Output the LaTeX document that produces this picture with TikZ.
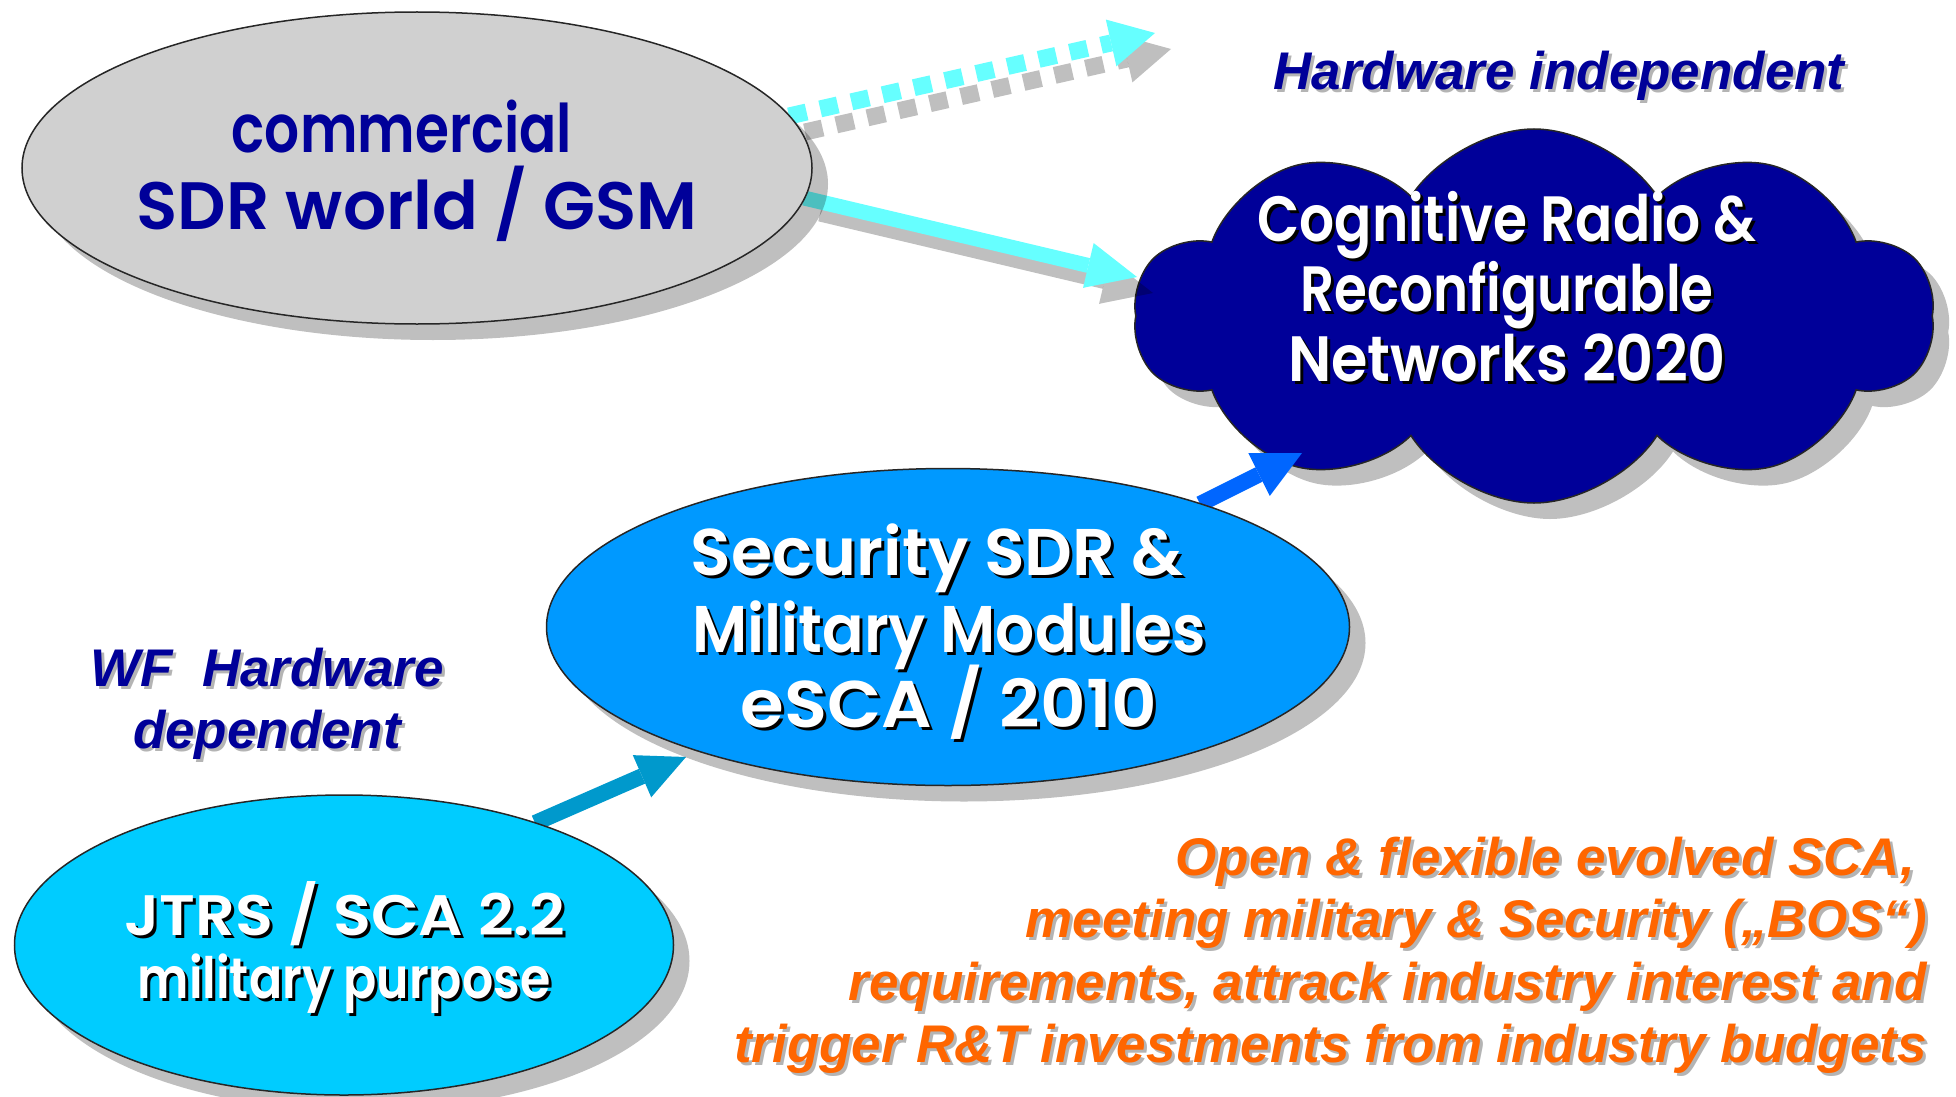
\documentclass[tikz,border=0pt]{standalone}
\usepackage{fontspec}
\setmainfont{Liberation Sans}
\newfontfamily\comic{Poppins}[BoldFont={Poppins SemiBold}]
\usetikzlibrary{shapes.geometric,shapes.symbols,shadows,arrows.meta,calc}
\definecolor{navy}{HTML}{000099}
\definecolor{greyfill}{HTML}{D0D0D0}
\definecolor{azure}{HTML}{0099FF}
\definecolor{skyc}{HTML}{00CCFF}
\definecolor{aqua}{HTML}{66FFFF}
\definecolor{arrowblue}{HTML}{0066FF}
\definecolor{tealx}{HTML}{0099CC}
\definecolor{orangex}{HTML}{FF6600}
\definecolor{txtshadow}{HTML}{B4B4B4}
% white comic text with black shadow: name, x, y, size, xfactor, text
\newcommand\stxt[6]{%
  \node[ctxt=#4, text=black, anchor=base] (#1s) at (#2+3,#3+3) {\scalebox{#5}[1]{#6}};
  \node[ctxt=#4, anchor=base] (#1) at (#2,#3) {\scalebox{#5}[1]{#6}};}
% label text with grey shadow: name, x, y, style, text, anchor
\newcommand\ltxt[6]{%
  \node[#4, text=txtshadow, anchor=#6] (#1s) at (#2+3,#3+3) {#5};
  \node[#4, anchor=#6] (#1) at (#2,#3) {#5};}
\begin{document}
\begin{tikzpicture}[x=1pt,y=-1pt,
  shad/.style={drop shadow={shadow xshift=16pt, shadow yshift=-16pt, fill=black, opacity=0.25}},
  ell/.style={ellipse, draw=black!85, line width=1.5pt, inner sep=0pt, shad},
  ctxt/.style={font=\comic\bfseries\fontsize{#1}{#1}\selectfont, inner sep=0pt, text=white},
  lab/.style={font=\bfseries\itshape\fontsize{53}{53}\selectfont, inner sep=0pt},
  ashadow/.style={draw=black, opacity=0.25}
]
\useasboundingbox (0,0) rectangle (1956,1097);
\clip (0,0) rectangle (1956,1097);

% cloud
\node[cloud, cloud puffs=10, cloud puff arc=115, aspect=2.3, minimum width=800pt, minimum height=374pt,
      fill=navy, draw=black!85, line width=1.5pt, shad] (cloud) at (1534,316) {};

\coordinate (commc) at (417,168);
\coordinate (a1s) at (789,116);
\coordinate (a1e) at (1155,33);
\coordinate (a2s) at (804,198);
\coordinate (a2e) at (1137,277);

% dashed arrow with shadow
\draw[ashadow, line width=17pt, dash pattern=on 18pt off 14pt,
      -{Triangle[length=45pt,width=48pt,line width=0pt]}]
  ($(a1s)+(16,16)$) -- ($(a1e)+(16,16)$);
\draw[aqua, line width=17pt, dash pattern=on 18pt off 14pt,
      -{Triangle[length=45pt,width=48pt,line width=0pt]}] (a1s) -- (a1e);
% solid cyan arrow with shadow
\draw[ashadow, line width=15pt, -{Triangle[length=50pt,width=46pt,line width=0pt]}]
  ($(a2s)+(16,16)$) -- ($(a2e)+(16,16)$);
\draw[aqua, line width=15pt, -{Triangle[length=50pt,width=46pt,line width=0pt]}] (a2s) -- (a2e);

% grey ellipse
\node[ell, fill=greyfill, minimum width=790pt, minimum height=312pt] (comm) at (commc) {};
\node[font=\comic\bfseries\fontsize{67}{67}\selectfont, inner sep=0pt, text=navy, anchor=base]
  (commt1) at (402,152) {\scalebox{0.82}[1]{commercial}};
\node[font=\comic\bfseries\fontsize{67}{67}\selectfont, inner sep=0pt, text=navy, anchor=base]
  (commt2) at (417,229) {\scalebox{1.01}[1]{SDR world / GSM}};

% cloud text
\stxt{cl1}{1507}{241}{64}{0.86}{Cognitive Radio \&}
\stxt{cl2}{1507}{311}{64}{0.83}{Reconfigurable}
\stxt{cl3}{1507}{381}{64}{0.92}{Networks 2020}

% arrows 3 and 4
\coordinate (a3s) at (1200,504);
\coordinate (a3e) at (1302,453);
\coordinate (a4s) at (535,823);
\coordinate (a4e) at (686,757);
\draw[arrowblue, line width=16pt, -{Triangle[length=48pt,width=48pt,line width=0pt]}] (a3s) -- (a3e);
\draw[tealx, line width=16pt, -{Triangle[length=48pt,width=46pt,line width=0pt]}] (a4s) -- (a4e);

% security ellipse
\node[ell, fill=azure, minimum width=803pt, minimum height=317pt] (sec) at (948,627) {};
\stxt{se1}{937}{575}{66}{1.01}{Security SDR \&}
\stxt{se2}{949}{652}{66}{0.93}{Military Modules}
\stxt{se3}{949}{727}{66}{1.07}{eSCA / 2010}

% JTRS ellipse
\node[ell, fill=skyc, minimum width=659pt, minimum height=300pt] (jtrs) at (344,945) {};
\stxt{jt1}{345}{935}{57}{1.09}{JTRS / SCA 2.2}
\stxt{jt2}{344}{998}{57}{0.86}{military purpose}

% labels
\ltxt{hi}{1559}{90}{lab, text=navy}{Hardware independent}{base}
\ltxt{wf1}{267}{686}{lab, text=navy}{WF\ \ Hardware}{base}
\ltxt{wf2}{267}{748}{lab, text=navy}{dependent}{base}

\ltxt{or1}{1915}{875}{lab, text=orangex}{Open \& flexible evolved SCA,}{base east}
\ltxt{or2}{1927}{937}{lab, text=orangex}{meeting military \& Security („BOS“)}{base east}
\ltxt{or3}{1927}{1000}{lab, text=orangex}{requirements, attrack industry interest and}{base east}
\ltxt{or4}{1927}{1062}{lab, text=orangex}{trigger R\&T investments from industry budgets}{base east}
\end{tikzpicture}
\end{document}
